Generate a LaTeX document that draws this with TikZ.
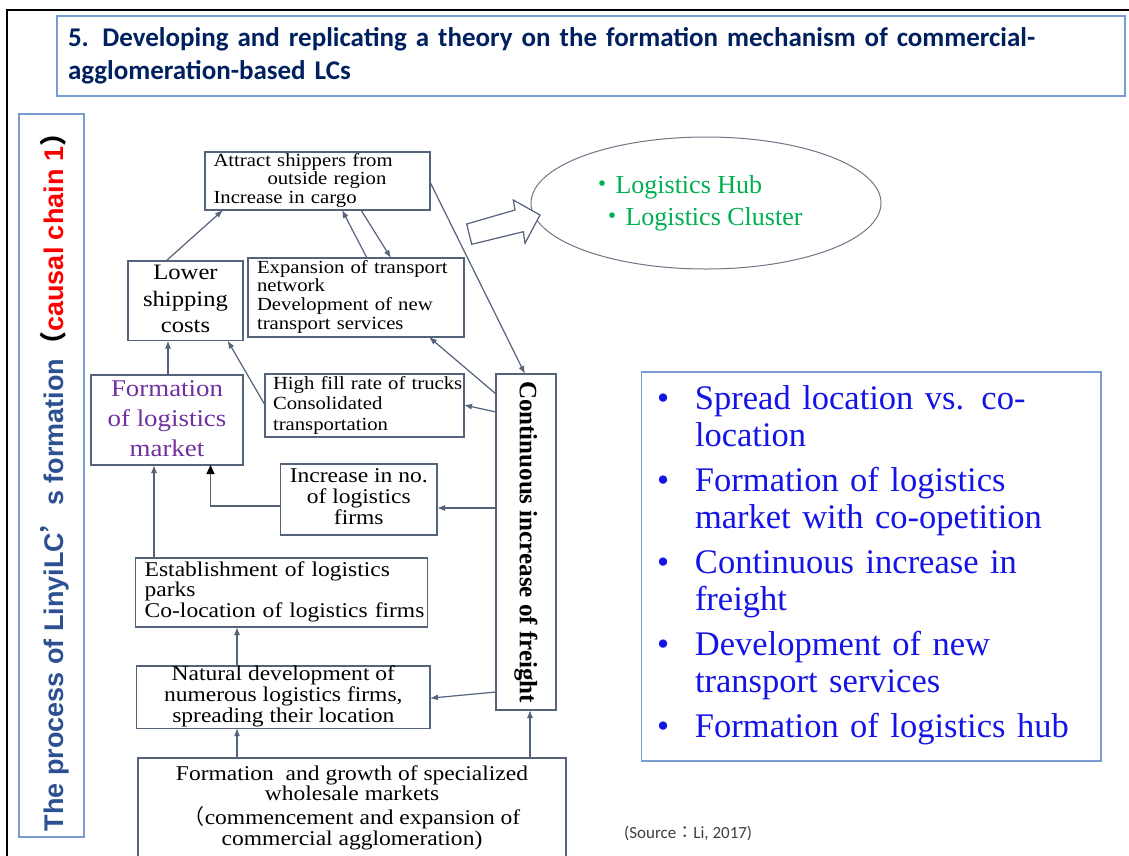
\documentclass[tikz,border=0pt]{standalone}
\usepackage{fontspec}
\usepackage{graphicx}
\setmainfont{Liberation Serif}
\newfontfamily\bxf{Liberation Serif}[FakeStretch=1.12]
\newfontfamily\sansf{Carlito}
\newfontfamily\arialf{Liberation Sans}
\newfontfamily\cjk{Noto Sans CJK JP}
\newfontfamily\cjkfw{Noto Sans CJK JP}[RawFeature=+fwid]
\usetikzlibrary{arrows.meta,shapes.geometric}
\definecolor{boxc}{RGB}{84,98,122}
\definecolor{lightbl}{RGB}{120,155,210}
\definecolor{titlec}{RGB}{0,32,96}
\definecolor{vblue}{RGB}{44,80,146}
\definecolor{mkpurple}{RGB}{112,48,160}
\definecolor{hubgreen}{RGB}{0,176,80}
\definecolor{listblue}{RGB}{20,20,230}
\definecolor{ellc}{RGB}{110,118,132}
\definecolor{srcc}{RGB}{64,64,64}
\newcommand\bxs[2]{\bxf\fontsize{#1}{#2}\selectfont}
\begin{document}
\begin{tikzpicture}[x=1pt,y=-1pt,
 bx/.style={draw=boxc, line width=1.2pt, inner sep=0pt, outer sep=0pt, anchor=north west},
 arr/.style={draw=boxc, line width=1.2pt, -{Latex[length=8pt,width=6pt]}},
 frm/.style={draw=lightbl, line width=1.2pt, inner sep=0pt, outer sep=0pt, anchor=north west}]
\useasboundingbox (0,0) rectangle (1129,855);
\fill[white] (0,0) rectangle (1129,855);
\draw[black, line width=2.5pt] (7,870) -- (7,10) -- (1140,10);

\node[frm, minimum width=1068pt, minimum height=80pt, text width=1046pt, inner xsep=11pt, align=left, text=titlec, font={\sansf\bfseries\fontsize{27}{33}\selectfont}] (title) at (57,16) {5. Developing and replicating a theory on the formation mechanism of commercial-\\agglomeration-based LCs};

\node[frm, minimum width=65pt, minimum height=723pt] (side) at (19,114) {\rotatebox{90}{\smash{\raisebox{-11.5pt}{\arialf\bfseries\fontsize{27}{27}\selectfont\color{vblue}The process of LinyiLC{\cjkfw ’}s formation{\color{black}\cjk （}\color{red}causal chain 1{\color{black}\cjk ）}}}}};

\node[frm, minimum width=459.5pt, minimum height=389pt, text width=428.5pt, inner xsep=15.5pt, align=left, text=listblue, font={\fontsize{34.5}{37}\selectfont}] (list) at (641.5,372) {\begin{tabular}{@{}p{38pt}@{}l@{}}
\textbullet & Spread location vs. co-\\ & location\\[8pt]
\textbullet & Formation of logistics\\ & market with co-opetition\\[8pt]
\textbullet & Continuous increase in\\ & freight\\[8pt]
\textbullet & Development of new\\ & transport services\\[8pt]
\textbullet & Formation of logistics hub
\end{tabular}};

\node[ellipse, draw=ellc, line width=1pt, minimum width=350pt, minimum height=132pt, inner sep=0pt, text=hubgreen, font={\fontsize{26}{32}\selectfont}] (hub) at (706,203) {\begin{tabular}{@{}l@{}}{\cjk ・}Logistics Hub\\\hspace*{10pt}{\cjk ・}Logistics Cluster\hspace*{20pt}\end{tabular}};

\draw[draw=boxc, line width=1.2pt, fill=white, line join=miter] (466.7,224) -- (515,210) -- (513.3,200) -- (540,215) -- (525,243.3) -- (523.3,231.7) -- (471.7,244.3) -- cycle;

\node[anchor=base west, inner sep=0pt, text=srcc, font={\sansf\fontsize{17}{17}\selectfont}] (src) at (624,838) {(Source{\cjk ：}Li, 2017)};

\node[bx, minimum width=225pt, minimum height=58pt, text width=208pt, align=left, font={\bxs{18.5}{18.5}}] (attract) at (205,152) {\begin{tabular}{@{}l@{}}Attract shippers from\\\hspace*{54pt}outside region\\Increase in cargo\end{tabular}};

\node[bx, minimum width=115pt, minimum height=75pt, font={\bxs{22}{26.5}}] (lower) at (128,261) {\begin{tabular}{@{}c@{}}Lower\\shipping\\costs\end{tabular}};

\node[bx, minimum width=216pt, minimum height=79pt, text width=198pt, align=left, font={\bxs{18.5}{18.7}}] (expansion) at (248,258) {\begin{tabular}{@{}l@{}}Expansion of transport\\network\\Development of new\\transport services\end{tabular}};

\node[bx, minimum width=152pt, minimum height=87pt, text=mkpurple, font={\bxs{24}{30}}] (market) at (91,375) {\begin{tabular}{@{}c@{}}Formation\\of logistics\\market\end{tabular}};

\node[bx, minimum width=199pt, minimum height=63pt, text width=183pt, align=left, font={\bxs{18.5}{20.5}}] (highfill) at (265,374) {\begin{tabular}{@{}l@{}}High fill rate of trucks\\Consolidated\\transportation\end{tabular}};

\node[bx, minimum width=60pt, minimum height=336pt] (cont) at (496,374) {\rotatebox{-90}{\bfseries\fontsize{25}{25}\selectfont Continuous increase of freight}};

\node[bx, minimum width=156.5pt, minimum height=71pt, font={\bxs{21}{20.5}}] (increase) at (280.5,464) {\begin{tabular}{@{}c@{}}Increase in no.\\of logistics\\firms\end{tabular}};

\node[bx, minimum width=292pt, minimum height=69pt, text width=273.6pt, align=left, font={\bxs{21}{20.5}}] (establishment) at (135.5,558) {\begin{tabular}{@{}l@{}}Establishment of logistics\\parks\\Co-location of logistics firms\end{tabular}};

\node[bx, minimum width=293.4pt, minimum height=56pt, font={\bxs{21}{20}}] (natural) at (136.6,666) {\begin{tabular}{@{}c@{}}Natural development of\\numerous logistics firms,\\spreading their location\end{tabular}};

\node[bx, anchor=north, minimum width=428pt, text height=22pt, text depth=100pt, font={\bxs{21}{20}}] (growth) at (352,758) {\begin{tabular}[t]{@{}c@{}}Formation\ \ and growth of specialized\\wholesale markets\\{\cjk （}commencement and expansion of\\commercial agglomeration)\end{tabular}};

\draw[arr] ([xshift=38pt]lower.north west) -- ([xshift=18pt]attract.south west);
\draw[arr] ([xshift=119pt]expansion.north west) -- ([xshift=137pt]attract.south west);
\draw[arr] ([xshift=156pt]attract.south west) -- ([xshift=143pt]expansion.north west);
\draw[arr] ([xshift=77pt]market.north west) -- ([xshift=40pt]lower.south west);
\draw[arr] ([yshift=-31pt]highfill.north west) -- ([xshift=-15.5pt]lower.south east);
\draw[arr] ([yshift=-20pt]cont.north west) -- ([xshift=-35pt]expansion.south east);
\draw[arr] ([yshift=-38pt]cont.north west) -- ([yshift=-31pt]highfill.north east);
\draw[arr] ([yshift=-30pt]attract.north east) -- ([xshift=29pt]cont.north west);
\draw[arr] ([yshift=-134pt]cont.north west) -- ([yshift=-44pt]increase.north east);
\draw[draw=boxc, line width=1.2pt, -{Triangle[length=9pt,width=8pt,color=black]}] ([yshift=-42pt]increase.north west) -| ([xshift=119.5pt]market.south west);
\draw[arr] ([xshift=18.5pt]establishment.north west) -- ([xshift=63pt]market.south west);
\draw[arr] ([yshift=18pt]cont.south west) -- ([yshift=30pt]natural.south east);
\draw[arr] ([xshift=100.4pt]natural.north west) -- ([xshift=101.5pt]establishment.south west);
\draw[arr] ([xshift=99pt]growth.north west) -- ([xshift=100.4pt]natural.south west);
\draw[arr] ([xshift=392pt]growth.north west) -- ([xshift=34pt]cont.south west);
\end{tikzpicture}
\end{document}
